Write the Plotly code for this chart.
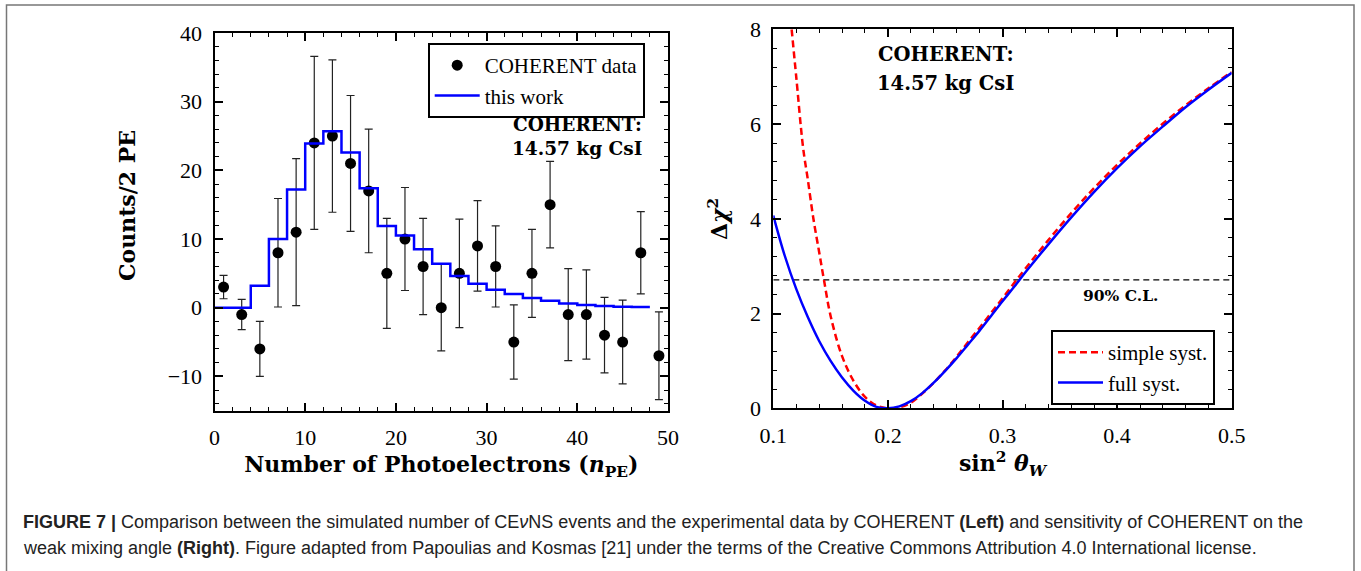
import plotly.graph_objects as go

W, H = 1361, 571

# ---------------- Left panel data ----------------
npe = [1, 3, 5, 7, 9, 11, 13, 15, 17, 19, 21, 23, 25, 27, 29, 31, 33, 35, 37, 39, 41, 43, 45, 47, 49]
counts = [3, -1, -6, 8, 11, 24, 25, 21, 17, 5, 10, 6, 0, 5, 9, 6, -5, 5, 15, -1, -1, -4, -5, 8, -7]
count_err = [1.7, 2.2, 4.0, 7.9, 10.7, 12.6, 11.1, 9.9, 9.0, 8.0, 7.5, 7.0, 6.3, 7.9, 6.6, 5.9,
             5.4, 6.4, 6.3, 6.7, 6.5, 5.5, 6.1, 6.0, 6.4]
bin_edges = [0, 2, 4, 6, 8, 10, 12, 14, 16, 18, 20, 22, 24, 26, 28, 30, 32, 34, 36, 38, 40, 42, 44, 46, 48]
sim_counts = [0, 0, 3.2, 10.0, 17.2, 23.9, 25.7, 22.6, 17.4, 11.9, 10.5, 8.5, 6.4, 4.6, 3.5, 2.6,
              2.0, 1.4, 1.0, 0.6, 0.4, 0.25, 0.15, 0.1]

# ---------------- Right panel data ----------------
s2w_full = [0.10, 0.11, 0.12, 0.13, 0.14, 0.15, 0.16, 0.17, 0.18, 0.19, 0.20, 0.21, 0.22, 0.23,
            0.24, 0.25, 0.26, 0.27, 0.28, 0.29, 0.30, 0.31, 0.32, 0.34, 0.36, 0.38, 0.40, 0.42,
            0.44, 0.46, 0.48, 0.50]
chi2_full = [4.07, 3.22, 2.52, 1.93, 1.42, 1.0, 0.65, 0.37, 0.16, 0.03, 0.0, 0.04, 0.15, 0.32,
             0.54, 0.79, 1.06, 1.35, 1.64, 1.95, 2.26, 2.56, 2.87, 3.46, 4.03, 4.57, 5.07, 5.53,
             5.95, 6.36, 6.73, 7.08]
s2w_simple = [0.116, 0.12, 0.126, 0.13, 0.135, 0.14, 0.1442, 0.15, 0.16, 0.17, 0.18, 0.19, 0.20,
              0.21, 0.22, 0.23, 0.24, 0.25, 0.26, 0.27, 0.28, 0.29, 0.30, 0.31, 0.32, 0.34,
              0.36, 0.38, 0.40, 0.42, 0.44, 0.46, 0.48, 0.50]
chi2_simple = [8.0, 7.0, 5.5, 4.85, 4.0, 3.3, 2.71, 1.95, 1.1, 0.58, 0.24, 0.06, 0.0,
               0.02, 0.12, 0.31, 0.54, 0.8, 1.09, 1.4, 1.7, 2.01, 2.32, 2.64, 2.95, 3.55,
               4.12, 4.65, 5.14, 5.59, 6.01, 6.4, 6.76, 7.1]
cl90 = 2.71

SERIF = "Liberation Serif"
BSERIF = "DejaVu Serif"


def px_x(p):
    return p / W


def px_y(p):
    return 1 - p / H


fig = go.Figure()

# left: data points
fig.add_trace(go.Scatter(
    x=npe, y=counts, mode="markers", name="COHERENT data",
    marker=dict(color="black", size=11),
    error_y=dict(type="data", array=count_err, color="#222222", thickness=1.2, width=4),
    xaxis="x", yaxis="y", legend="legend"))
# left: simulated histogram (step)
fig.add_trace(go.Scatter(
    x=bin_edges, y=sim_counts + [sim_counts[-1]],
    mode="lines", line=dict(color="#0000ff", width=2.5, shape="hv"),
    name="this work", xaxis="x", yaxis="y", legend="legend"))

# right: CL line
fig.add_trace(go.Scatter(
    x=[0.1, 0.5], y=[cl90, cl90], mode="lines", showlegend=False,
    line=dict(color="black", width=1.2, dash="6px,4px"), xaxis="x2", yaxis="y2"))
fig.add_trace(go.Scatter(
    x=s2w_simple, y=chi2_simple, mode="lines", name="simple syst.",
    line=dict(color="#ff0000", width=2.5, dash="7px,4px", shape="spline"),
    xaxis="x2", yaxis="y2", legend="legend2"))
fig.add_trace(go.Scatter(
    x=s2w_full, y=chi2_full, mode="lines", name="full syst.",
    line=dict(color="#0000ff", width=2.5, shape="spline"),
    xaxis="x2", yaxis="y2", legend="legend2"))

axis_common = dict(
    showline=True, linecolor="black", linewidth=2, mirror="ticks",
    ticks="inside", ticklen=8, tickwidth=1.5, tickcolor="black",
    showgrid=False, zeroline=False, automargin=False,
    tickfont=dict(family=SERIF, size=22, color="black"),
    title_font=dict(family=BSERIF, size=22, color="black"),
)

legend_common = dict(
    xanchor="left", yanchor="top",
    bgcolor="white", bordercolor="black", borderwidth=2,
    font=dict(family=SERIF, size=21, color="black"),
    tracegroupgap=0, itemwidth=45,
)

fig.update_layout(
    template="none",
    width=W, height=H,
    margin=dict(l=0, r=0, t=0, b=0, autoexpand=False),
    paper_bgcolor="white", plot_bgcolor="white",
    xaxis=dict(axis_common, domain=[px_x(214.5), px_x(668)], range=[0, 50], dtick=10,
               minor=dict(dtick=2, ticks="inside", ticklen=4, tickwidth=1.2, tickcolor="black"),
               anchor="y", ticklabelstandoff=6,
               title=dict(text="<b>Number of Photoelectrons (<i>n</i><sub>PE</sub>)</b>", standoff=8)),
    yaxis=dict(axis_common, domain=[px_y(410.7), px_y(33)], range=[-15, 40], dtick=10,
               minor=dict(dtick=2, ticks="inside", ticklen=4, tickwidth=1.2, tickcolor="black"),
               anchor="x", ticklabelstandoff=6),
    xaxis2=dict(axis_common, domain=[px_x(773.3), px_x(1231.7)], range=[0.1, 0.5], dtick=0.1,
                tickformat=".1f",
                minor=dict(dtick=0.02, ticks="inside", ticklen=4, tickwidth=1.2, tickcolor="black"),
                anchor="y2", ticklabelstandoff=6,
                title=dict(text="<b>sin<sup>2</sup> <i>θ<sub>W</sub></i></b>", standoff=8)),
    yaxis2=dict(axis_common, domain=[px_y(408.3), px_y(29.3)], range=[0, 8], dtick=2,
                minor=dict(dtick=0.4, ticks="inside", ticklen=4, tickwidth=1.2, tickcolor="black"),
                anchor="x2", ticklabelstandoff=6,
                title=dict(text="<b>Δ<i>χ</i><sup>2</sup></b>", standoff=16)),
    legend=dict(legend_common, x=px_x(427.7), y=px_y(43)),
    legend2=dict(legend_common, x=px_x(1051), y=px_y(330)),
    showlegend=True,
)

annots = [
    dict(x=px_x(577), y=px_y(137), yanchor="bottom", text="<b>COHERENT:</b>",
         font=dict(family=BSERIF, size=18.5)),
    dict(x=px_x(577), y=px_y(136), yanchor="top", text="<b>14.57 kg CsI</b>",
         font=dict(family=BSERIF, size=18.5)),
    dict(x=px_x(946), y=px_y(55), yanchor="middle", text="<b>COHERENT:</b>",
         font=dict(family=BSERIF, size=19.5)),
    dict(x=px_x(945), y=px_y(83.3), yanchor="middle", text="<b>14.57 kg CsI</b>",
         font=dict(family=BSERIF, size=19.5)),
    dict(x=px_x(1120), y=px_y(296), yanchor="middle", text="<b>90% C.L.</b>",
         font=dict(family=BSERIF, size=15.5)),
    # left y-axis title (slightly above the axis centre, as in the original)
    dict(x=px_x(127), y=px_y(206), yanchor="middle", text="<b>Counts/2 PE</b>", textangle=-90,
         font=dict(family=BSERIF, size=22)),
]
for a in annots:
    a.update(xref="paper", yref="paper", showarrow=False, xanchor="center")
    a["font"]["color"] = "black"
    fig.add_annotation(**a)

CAP = "Liberation Sans"
fig.add_annotation(
    x=px_x(21), y=px_y(522), xref="paper", yref="paper", showarrow=False,
    xanchor="left", yanchor="middle",
    text="<b>FIGURE 7 |</b> Comparison between the simulated number of CE<i>ν</i>NS events and the "
         "experimental data by COHERENT <b>(Left)</b> and sensitivity of COHERENT on the",
    font=dict(family=CAP, size=18, color="#222222"))
fig.add_annotation(
    x=px_x(21), y=px_y(548), xref="paper", yref="paper", showarrow=False,
    xanchor="left", yanchor="middle",
    text="weak mixing angle <b>(Right)</b>. Figure adapted from Papoulias and Kosmas [21] under the "
         "terms of the Creative Commons Attribution 4.0 International license.",
    font=dict(family=CAP, size=18, color="#222222"))

# outer figure frame
fig.add_shape(type="rect", xref="paper", yref="paper",
              x0=px_x(6.5), x1=px_x(1354), y0=-0.05, y1=px_y(5),
              line=dict(color="#777777", width=1.5))

fig.write_html("out.html")
